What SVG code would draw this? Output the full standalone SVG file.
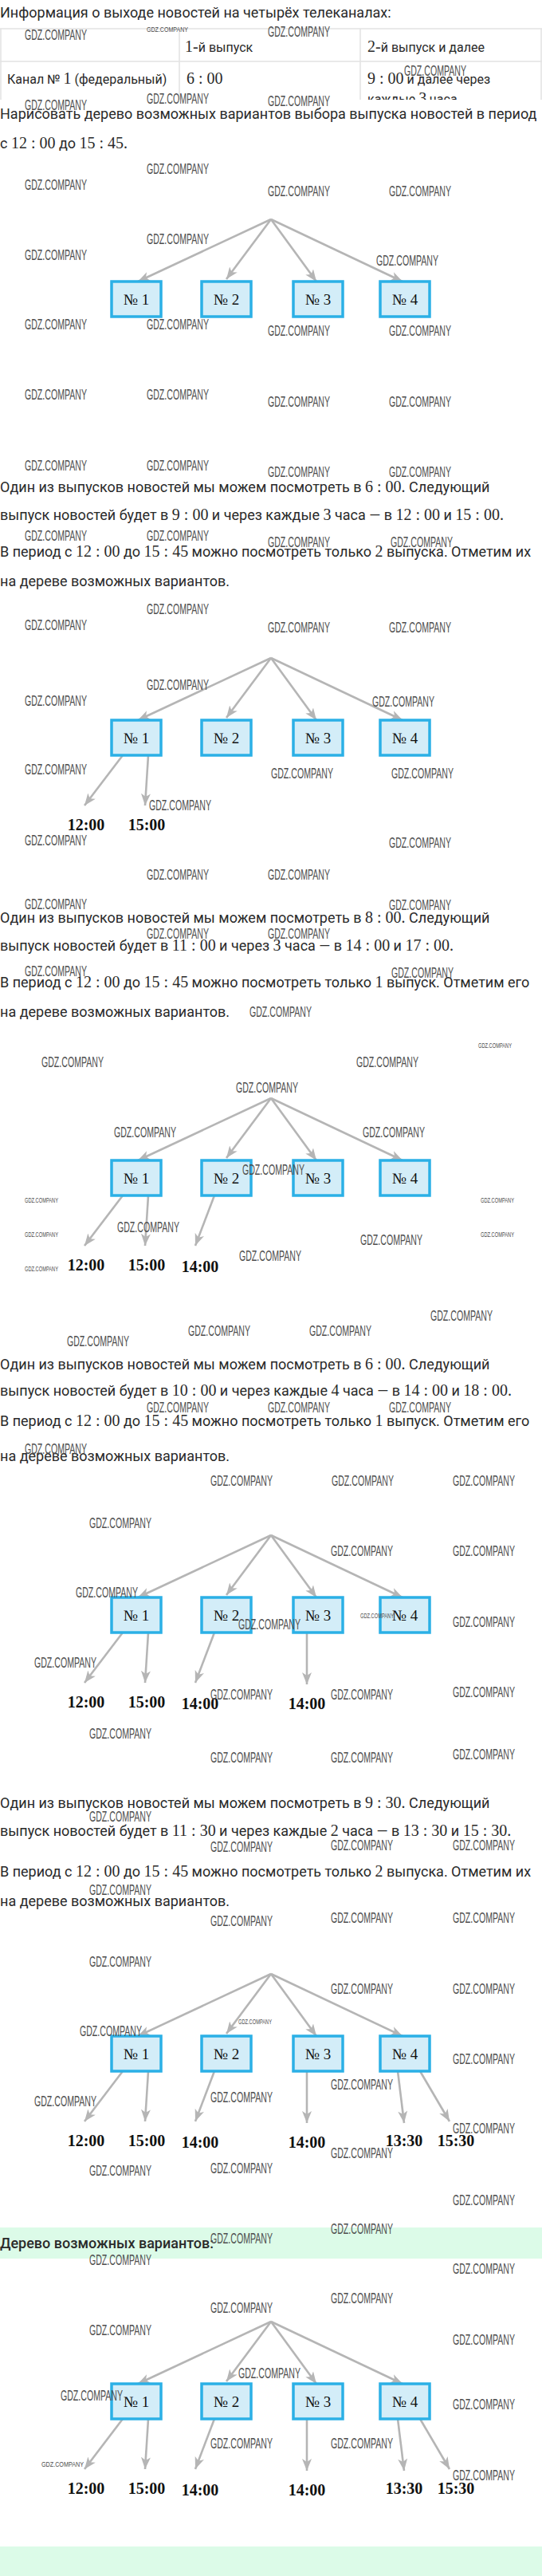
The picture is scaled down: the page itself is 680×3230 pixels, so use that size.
<svg xmlns="http://www.w3.org/2000/svg" width="680" height="3230" viewBox="0 0 680 3230">
<style>
.t{font-family:Roboto,"Liberation Sans",sans-serif;font-size:18px;fill:#2a2a2a}
.m{font-family:"Liberation Serif","DejaVu Serif",serif;font-size:20px}
.h{font-family:Roboto,"Liberation Sans",sans-serif;font-size:16px;fill:#2a2a2a}
.grid{stroke:#e2e2e2;stroke-width:1.5;fill:none}
.conn line{stroke:#b5b5b5;stroke-width:2.6;marker-end:url(#ah)}
.box{fill:#d3edf8;stroke:#2bb0e6;stroke-width:3.5}
.bl{font-family:"Liberation Serif","DejaVu Serif",serif;font-size:19px;fill:#111;text-anchor:middle}
.tl{font-family:"Liberation Serif","DejaVu Serif",serif;font-size:20px;font-weight:bold;fill:#111;text-anchor:middle}
.wm{font-family:"Liberation Sans",sans-serif;font-size:18px;fill:#4d4d4d}
.ws{font-family:"Liberation Sans",sans-serif;font-size:9px;fill:#4d4d4d}
.band{fill:#dcfbe8}
</style>
<defs>
<marker id="ah" markerUnits="userSpaceOnUse" markerWidth="16" markerHeight="12" refX="15" refY="6" orient="auto">
<path d="M0,0 L15,6 L0,12 L4,6 z" fill="#b5b5b5"/>
</marker>
<clipPath id="tc"><rect x="0" y="30" width="680" height="95"/></clipPath>
</defs>
<rect width="680" height="3230" fill="#ffffff"/>

<!-- intro -->
<g id="intro">
<text class="t" x="0" y="22">Информация о выходе новостей на четырёх телеканалах:</text>
</g>
<g id="table" clip-path="url(#tc)">
<line class="grid" x1="0" y1="36" x2="680" y2="36"/>
<line class="grid" x1="0" y1="77" x2="680" y2="77"/>
<line class="grid" x1="1" y1="36" x2="1" y2="130"/>
<line class="grid" x1="225" y1="36" x2="225" y2="130"/>
<line class="grid" x1="452" y1="36" x2="452" y2="130"/>
<line class="grid" x1="679" y1="36" x2="679" y2="130"/>
<text class="h" x="232" y="65"><tspan class="m" font-size="18">1-</tspan>й выпуск</text>
<text class="h" x="461" y="65"><tspan class="m" font-size="18">2-</tspan>й выпуск и далее</text>
<text class="h" x="9" y="105">Канал № <tspan class="m" font-size="18">1</tspan> (федеральный)</text>
<text class="h" x="234" y="105"><tspan class="m">6 : 00</tspan></text>
<text class="h" x="461" y="105"><tspan class="m">9 : 00</tspan> и далее через</text>
<text class="h" x="461" y="130">каждые <tspan class="m">3</tspan> часа</text>
</g>
<g id="task">
<text class="t" x="0" y="149">Нарисовать дерево возможных вариантов выбора выпуска новостей в период</text>
<text class="t" x="0" y="186">с <tspan class="m">12 : 00</tspan> до <tspan class="m">15 : 45.</tspan></text>
</g>

<!-- paragraphs -->
<g id="para1">
<text class="t" x="0" y="617">Один из выпусков новостей мы можем посмотреть в <tspan class="m">6 : 00.</tspan> Следующий</text>
<text class="t" x="0" y="652">выпуск новостей будет в <tspan class="m">9 : 00</tspan> и через каждые <tspan class="m">3</tspan> часа — в <tspan class="m">12 : 00</tspan> и <tspan class="m">15 : 00.</tspan></text>
<text class="t" x="0" y="698">В период с <tspan class="m">12 : 00</tspan> до <tspan class="m">15 : 45</tspan> можно посмотреть только <tspan class="m">2</tspan> выпуска. Отметим их</text>
<text class="t" x="0" y="735">на дереве возможных вариантов.</text>
</g>
<g id="para2">
<text class="t" x="0" y="1157">Один из выпусков новостей мы можем посмотреть в <tspan class="m">8 : 00.</tspan> Следующий</text>
<text class="t" x="0" y="1192">выпуск новостей будет в <tspan class="m">11 : 00</tspan> и через <tspan class="m">3</tspan> часа — в <tspan class="m">14 : 00</tspan> и <tspan class="m">17 : 00.</tspan></text>
<text class="t" x="0" y="1238">В период с <tspan class="m">12 : 00</tspan> до <tspan class="m">15 : 45</tspan> можно посмотреть только <tspan class="m">1</tspan> выпуск. Отметим его</text>
<text class="t" x="0" y="1275">на дереве возможных вариантов.</text>
</g>
<g id="para3">
<text class="t" x="0" y="1717">Один из выпусков новостей мы можем посмотреть в <tspan class="m">6 : 00.</tspan> Следующий</text>
<text class="t" x="0" y="1750">выпуск новостей будет в <tspan class="m">10 : 00</tspan> и через каждые <tspan class="m">4</tspan> часа — в <tspan class="m">14 : 00</tspan> и <tspan class="m">18 : 00.</tspan></text>
<text class="t" x="0" y="1788">В период с <tspan class="m">12 : 00</tspan> до <tspan class="m">15 : 45</tspan> можно посмотреть только <tspan class="m">1</tspan> выпуск. Отметим его</text>
<text class="t" x="0" y="1832">на дереве возможных вариантов.</text>
</g>
<g id="para4">
<text class="t" x="0" y="2267">Один из выпусков новостей мы можем посмотреть в <tspan class="m">9 : 30.</tspan> Следующий</text>
<text class="t" x="0" y="2302">выпуск новостей будет в <tspan class="m">11 : 30</tspan> и через каждые <tspan class="m">2</tspan> часа — в <tspan class="m">13 : 30</tspan> и <tspan class="m">15 : 30.</tspan></text>
<text class="t" x="0" y="2353">В период с <tspan class="m">12 : 00</tspan> до <tspan class="m">15 : 45</tspan> можно посмотреть только <tspan class="m">2</tspan> выпуска. Отметим их</text>
<text class="t" x="0" y="2390">на дереве возможных вариантов.</text>
</g>
<g id="answer">
<rect class="band" x="0" y="2793" width="680" height="39"/>
<text class="t" x="0" y="2819" font-weight="500" fill="#222">Дерево возможных вариантов:</text>
<rect class="band" x="0" y="3193" width="680" height="37"/>
</g>

<!-- TREE 1 -->
<g id="tree1" transform="translate(0,275)">
<g id="tree1-connectors" class="conn">
<line x1="340" y1="0" x2="173" y2="78"/>
<line x1="340" y1="0" x2="284" y2="75"/>
<line x1="340" y1="0" x2="397" y2="78"/>
<line x1="340" y1="0" x2="505" y2="78"/>
</g>
<g id="tree1-n1"><rect class="box" x="140" y="78" width="62" height="44"/><text class="bl" x="171" y="107">№ 1</text></g>
<g id="tree1-n2"><rect class="box" x="253" y="78" width="62" height="44"/><text class="bl" x="284" y="107">№ 2</text></g>
<g id="tree1-n3"><rect class="box" x="368" y="78" width="62" height="44"/><text class="bl" x="399" y="107">№ 3</text></g>
<g id="tree1-n4"><rect class="box" x="477" y="78" width="62" height="44"/><text class="bl" x="508" y="107">№ 4</text></g>
</g>

<!-- TREE 2 -->
<g id="tree2" transform="translate(0,825)">
<g id="tree2-connectors" class="conn">
<line x1="340" y1="0" x2="173" y2="78"/>
<line x1="340" y1="0" x2="284" y2="75"/>
<line x1="340" y1="0" x2="397" y2="78"/>
<line x1="340" y1="0" x2="505" y2="78"/>
<line x1="154" y1="122" x2="106" y2="185"/>
<line x1="186" y1="122" x2="182" y2="185"/>
</g>
<g id="tree2-n1"><rect class="box" x="140" y="78" width="62" height="44"/><text class="bl" x="171" y="107">№ 1</text></g>
<g id="tree2-n2"><rect class="box" x="253" y="78" width="62" height="44"/><text class="bl" x="284" y="107">№ 2</text></g>
<g id="tree2-n3"><rect class="box" x="368" y="78" width="62" height="44"/><text class="bl" x="399" y="107">№ 3</text></g>
<g id="tree2-n4"><rect class="box" x="477" y="78" width="62" height="44"/><text class="bl" x="508" y="107">№ 4</text></g>
<g id="tree2-t1"><text class="tl" x="108" y="216">12:00</text></g>
<g id="tree2-t2"><text class="tl" x="184" y="216">15:00</text></g>
</g>

<!-- TREE 3 -->
<g id="tree3" transform="translate(0,1377)">
<g id="tree3-connectors" class="conn">
<line x1="340" y1="0" x2="173" y2="78"/>
<line x1="340" y1="0" x2="284" y2="75"/>
<line x1="340" y1="0" x2="397" y2="78"/>
<line x1="340" y1="0" x2="505" y2="78"/>
<line x1="154" y1="122" x2="106" y2="185"/>
<line x1="186" y1="122" x2="182" y2="185"/>
<line x1="269" y1="122" x2="245" y2="185"/>
</g>
<g id="tree3-n1"><rect class="box" x="140" y="78" width="62" height="44"/><text class="bl" x="171" y="107">№ 1</text></g>
<g id="tree3-n2"><rect class="box" x="253" y="78" width="62" height="44"/><text class="bl" x="284" y="107">№ 2</text></g>
<g id="tree3-n3"><rect class="box" x="368" y="78" width="62" height="44"/><text class="bl" x="399" y="107">№ 3</text></g>
<g id="tree3-n4"><rect class="box" x="477" y="78" width="62" height="44"/><text class="bl" x="508" y="107">№ 4</text></g>
<g id="tree3-t1"><text class="tl" x="108" y="216">12:00</text></g>
<g id="tree3-t2"><text class="tl" x="184" y="216">15:00</text></g>
<g id="tree3-t3"><text class="tl" x="251" y="218">14:00</text></g>
</g>

<!-- TREE 4 -->
<g id="tree4" transform="translate(0,1925)">
<g id="tree4-connectors" class="conn">
<line x1="340" y1="0" x2="173" y2="78"/>
<line x1="340" y1="0" x2="284" y2="75"/>
<line x1="340" y1="0" x2="397" y2="78"/>
<line x1="340" y1="0" x2="505" y2="78"/>
<line x1="154" y1="122" x2="106" y2="185"/>
<line x1="186" y1="122" x2="182" y2="185"/>
<line x1="269" y1="122" x2="245" y2="185"/>
<line x1="385" y1="122" x2="385" y2="187"/>
</g>
<g id="tree4-n1"><rect class="box" x="140" y="78" width="62" height="44"/><text class="bl" x="171" y="107">№ 1</text></g>
<g id="tree4-n2"><rect class="box" x="253" y="78" width="62" height="44"/><text class="bl" x="284" y="107">№ 2</text></g>
<g id="tree4-n3"><rect class="box" x="368" y="78" width="62" height="44"/><text class="bl" x="399" y="107">№ 3</text></g>
<g id="tree4-n4"><rect class="box" x="477" y="78" width="62" height="44"/><text class="bl" x="508" y="107">№ 4</text></g>
<g id="tree4-t1"><text class="tl" x="108" y="216">12:00</text></g>
<g id="tree4-t2"><text class="tl" x="184" y="216">15:00</text></g>
<g id="tree4-t3"><text class="tl" x="251" y="218">14:00</text></g>
<g id="tree4-t4"><text class="tl" x="385" y="218">14:00</text></g>
</g>

<!-- TREE 5 -->
<g id="tree5" transform="translate(0,2475)">
<g id="tree5-connectors" class="conn">
<line x1="340" y1="0" x2="173" y2="78"/>
<line x1="340" y1="0" x2="284" y2="75"/>
<line x1="340" y1="0" x2="397" y2="78"/>
<line x1="340" y1="0" x2="505" y2="78"/>
<line x1="154" y1="122" x2="106" y2="185"/>
<line x1="186" y1="122" x2="182" y2="185"/>
<line x1="269" y1="122" x2="245" y2="185"/>
<line x1="385" y1="122" x2="385" y2="187"/>
<line x1="499" y1="122" x2="507" y2="187"/>
<line x1="527" y1="122" x2="564" y2="185"/>
</g>
<g id="tree5-n1"><rect class="box" x="140" y="78" width="62" height="44"/><text class="bl" x="171" y="107">№ 1</text></g>
<g id="tree5-n2"><rect class="box" x="253" y="78" width="62" height="44"/><text class="bl" x="284" y="107">№ 2</text></g>
<g id="tree5-n3"><rect class="box" x="368" y="78" width="62" height="44"/><text class="bl" x="399" y="107">№ 3</text></g>
<g id="tree5-n4"><rect class="box" x="477" y="78" width="62" height="44"/><text class="bl" x="508" y="107">№ 4</text></g>
<g id="tree5-t1"><text class="tl" x="108" y="216">12:00</text></g>
<g id="tree5-t2"><text class="tl" x="184" y="216">15:00</text></g>
<g id="tree5-t3"><text class="tl" x="251" y="218">14:00</text></g>
<g id="tree5-t4"><text class="tl" x="385" y="218">14:00</text></g>
<g id="tree5-t5"><text class="tl" x="507" y="216">13:30</text></g>
<g id="tree5-t6"><text class="tl" x="572" y="216">15:30</text></g>
</g>

<!-- TREE 6 -->
<g id="tree6" transform="translate(0,2911)">
<g id="tree6-connectors" class="conn">
<line x1="340" y1="0" x2="173" y2="78"/>
<line x1="340" y1="0" x2="284" y2="75"/>
<line x1="340" y1="0" x2="397" y2="78"/>
<line x1="340" y1="0" x2="505" y2="78"/>
<line x1="154" y1="122" x2="106" y2="185"/>
<line x1="186" y1="122" x2="182" y2="185"/>
<line x1="269" y1="122" x2="245" y2="185"/>
<line x1="385" y1="122" x2="385" y2="187"/>
<line x1="499" y1="122" x2="507" y2="187"/>
<line x1="527" y1="122" x2="564" y2="185"/>
</g>
<g id="tree6-n1"><rect class="box" x="140" y="78" width="62" height="44"/><text class="bl" x="171" y="107">№ 1</text></g>
<g id="tree6-n2"><rect class="box" x="253" y="78" width="62" height="44"/><text class="bl" x="284" y="107">№ 2</text></g>
<g id="tree6-n3"><rect class="box" x="368" y="78" width="62" height="44"/><text class="bl" x="399" y="107">№ 3</text></g>
<g id="tree6-n4"><rect class="box" x="477" y="78" width="62" height="44"/><text class="bl" x="508" y="107">№ 4</text></g>
<g id="tree6-t1"><text class="tl" x="108" y="216">12:00</text></g>
<g id="tree6-t2"><text class="tl" x="184" y="216">15:00</text></g>
<g id="tree6-t3"><text class="tl" x="251" y="218">14:00</text></g>
<g id="tree6-t4"><text class="tl" x="385" y="218">14:00</text></g>
<g id="tree6-t5"><text class="tl" x="507" y="216">13:30</text></g>
<g id="tree6-t6"><text class="tl" x="572" y="216">15:30</text></g>
</g>

<!-- watermarks -->
<g id="watermarks">
<text class="wm" x="31" y="50" textLength="78" lengthAdjust="spacingAndGlyphs">GDZ.COMPANY</text>
<text class="ws" x="184" y="40" font-size="10" textLength="52" lengthAdjust="spacingAndGlyphs">GDZ.COMPANY</text>
<text class="wm" x="336" y="46" textLength="78" lengthAdjust="spacingAndGlyphs">GDZ.COMPANY</text>
<text class="wm" x="507" y="95" textLength="78" lengthAdjust="spacingAndGlyphs">GDZ.COMPANY</text>
<text class="wm" x="31" y="138" textLength="78" lengthAdjust="spacingAndGlyphs">GDZ.COMPANY</text>
<text class="wm" x="184" y="130" textLength="78" lengthAdjust="spacingAndGlyphs">GDZ.COMPANY</text>
<text class="wm" x="336" y="133" textLength="78" lengthAdjust="spacingAndGlyphs">GDZ.COMPANY</text>
<text class="wm" x="184" y="218" textLength="78" lengthAdjust="spacingAndGlyphs">GDZ.COMPANY</text>
<text class="wm" x="31" y="238" textLength="78" lengthAdjust="spacingAndGlyphs">GDZ.COMPANY</text>
<text class="wm" x="336" y="246" textLength="78" lengthAdjust="spacingAndGlyphs">GDZ.COMPANY</text>
<text class="wm" x="488" y="246" textLength="78" lengthAdjust="spacingAndGlyphs">GDZ.COMPANY</text>
<text class="wm" x="184" y="306" textLength="78" lengthAdjust="spacingAndGlyphs">GDZ.COMPANY</text>
<text class="wm" x="31" y="326" textLength="78" lengthAdjust="spacingAndGlyphs">GDZ.COMPANY</text>
<text class="wm" x="472" y="333" textLength="78" lengthAdjust="spacingAndGlyphs">GDZ.COMPANY</text>
<text class="wm" x="31" y="413" textLength="78" lengthAdjust="spacingAndGlyphs">GDZ.COMPANY</text>
<text class="wm" x="184" y="413" textLength="78" lengthAdjust="spacingAndGlyphs">GDZ.COMPANY</text>
<text class="wm" x="336" y="421" textLength="78" lengthAdjust="spacingAndGlyphs">GDZ.COMPANY</text>
<text class="wm" x="488" y="421" textLength="78" lengthAdjust="spacingAndGlyphs">GDZ.COMPANY</text>
<text class="wm" x="31" y="501" textLength="78" lengthAdjust="spacingAndGlyphs">GDZ.COMPANY</text>
<text class="wm" x="184" y="501" textLength="78" lengthAdjust="spacingAndGlyphs">GDZ.COMPANY</text>
<text class="wm" x="336" y="510" textLength="78" lengthAdjust="spacingAndGlyphs">GDZ.COMPANY</text>
<text class="wm" x="488" y="510" textLength="78" lengthAdjust="spacingAndGlyphs">GDZ.COMPANY</text>
<text class="wm" x="31" y="590" textLength="78" lengthAdjust="spacingAndGlyphs">GDZ.COMPANY</text>
<text class="wm" x="184" y="590" textLength="78" lengthAdjust="spacingAndGlyphs">GDZ.COMPANY</text>
<text class="wm" x="336" y="598" textLength="78" lengthAdjust="spacingAndGlyphs">GDZ.COMPANY</text>
<text class="wm" x="488" y="598" textLength="78" lengthAdjust="spacingAndGlyphs">GDZ.COMPANY</text>
<text class="wm" x="31" y="678" textLength="78" lengthAdjust="spacingAndGlyphs">GDZ.COMPANY</text>
<text class="wm" x="184" y="678" textLength="78" lengthAdjust="spacingAndGlyphs">GDZ.COMPANY</text>
<text class="wm" x="336" y="686" textLength="78" lengthAdjust="spacingAndGlyphs">GDZ.COMPANY</text>
<text class="wm" x="490" y="686" textLength="78" lengthAdjust="spacingAndGlyphs">GDZ.COMPANY</text>
<text class="wm" x="184" y="770" textLength="78" lengthAdjust="spacingAndGlyphs">GDZ.COMPANY</text>
<text class="wm" x="31" y="790" textLength="78" lengthAdjust="spacingAndGlyphs">GDZ.COMPANY</text>
<text class="wm" x="336" y="793" textLength="78" lengthAdjust="spacingAndGlyphs">GDZ.COMPANY</text>
<text class="wm" x="488" y="793" textLength="78" lengthAdjust="spacingAndGlyphs">GDZ.COMPANY</text>
<text class="wm" x="184" y="865" textLength="78" lengthAdjust="spacingAndGlyphs">GDZ.COMPANY</text>
<text class="wm" x="31" y="885" textLength="78" lengthAdjust="spacingAndGlyphs">GDZ.COMPANY</text>
<text class="wm" x="467" y="886" textLength="78" lengthAdjust="spacingAndGlyphs">GDZ.COMPANY</text>
<text class="wm" x="31" y="971" textLength="78" lengthAdjust="spacingAndGlyphs">GDZ.COMPANY</text>
<text class="wm" x="340" y="976" textLength="78" lengthAdjust="spacingAndGlyphs">GDZ.COMPANY</text>
<text class="wm" x="491" y="976" textLength="78" lengthAdjust="spacingAndGlyphs">GDZ.COMPANY</text>
<text class="wm" x="187" y="1016" textLength="78" lengthAdjust="spacingAndGlyphs">GDZ.COMPANY</text>
<text class="wm" x="31" y="1060" textLength="78" lengthAdjust="spacingAndGlyphs">GDZ.COMPANY</text>
<text class="wm" x="488" y="1063" textLength="78" lengthAdjust="spacingAndGlyphs">GDZ.COMPANY</text>
<text class="wm" x="184" y="1103" textLength="78" lengthAdjust="spacingAndGlyphs">GDZ.COMPANY</text>
<text class="wm" x="336" y="1103" textLength="78" lengthAdjust="spacingAndGlyphs">GDZ.COMPANY</text>
<text class="wm" x="31" y="1140" textLength="78" lengthAdjust="spacingAndGlyphs">GDZ.COMPANY</text>
<text class="wm" x="488" y="1141" textLength="78" lengthAdjust="spacingAndGlyphs">GDZ.COMPANY</text>
<text class="wm" x="184" y="1177" textLength="78" lengthAdjust="spacingAndGlyphs">GDZ.COMPANY</text>
<text class="wm" x="336" y="1177" textLength="78" lengthAdjust="spacingAndGlyphs">GDZ.COMPANY</text>
<text class="wm" x="31" y="1224" textLength="78" lengthAdjust="spacingAndGlyphs">GDZ.COMPANY</text>
<text class="wm" x="491" y="1226" textLength="78" lengthAdjust="spacingAndGlyphs">GDZ.COMPANY</text>
<text class="wm" x="313" y="1275" textLength="78" lengthAdjust="spacingAndGlyphs">GDZ.COMPANY</text>
<text class="ws" x="600" y="1314" textLength="42" lengthAdjust="spacingAndGlyphs">GDZ.COMPANY</text>
<text class="wm" x="52" y="1338" textLength="78" lengthAdjust="spacingAndGlyphs">GDZ.COMPANY</text>
<text class="wm" x="447" y="1338" textLength="78" lengthAdjust="spacingAndGlyphs">GDZ.COMPANY</text>
<text class="wm" x="296" y="1370" textLength="78" lengthAdjust="spacingAndGlyphs">GDZ.COMPANY</text>
<text class="wm" x="143" y="1426" textLength="78" lengthAdjust="spacingAndGlyphs">GDZ.COMPANY</text>
<text class="wm" x="455" y="1426" textLength="78" lengthAdjust="spacingAndGlyphs">GDZ.COMPANY</text>
<text class="wm" x="304" y="1473" textLength="78" lengthAdjust="spacingAndGlyphs">GDZ.COMPANY</text>
<text class="ws" x="31" y="1508" textLength="42" lengthAdjust="spacingAndGlyphs">GDZ.COMPANY</text>
<text class="ws" x="603" y="1508" textLength="42" lengthAdjust="spacingAndGlyphs">GDZ.COMPANY</text>
<text class="ws" x="31" y="1551" textLength="42" lengthAdjust="spacingAndGlyphs">GDZ.COMPANY</text>
<text class="ws" x="603" y="1551" textLength="42" lengthAdjust="spacingAndGlyphs">GDZ.COMPANY</text>
<text class="ws" x="31" y="1594" textLength="42" lengthAdjust="spacingAndGlyphs">GDZ.COMPANY</text>
<text class="wm" x="147" y="1545" textLength="78" lengthAdjust="spacingAndGlyphs">GDZ.COMPANY</text>
<text class="wm" x="452" y="1561" textLength="78" lengthAdjust="spacingAndGlyphs">GDZ.COMPANY</text>
<text class="wm" x="300" y="1581" textLength="78" lengthAdjust="spacingAndGlyphs">GDZ.COMPANY</text>
<text class="wm" x="540" y="1656" textLength="78" lengthAdjust="spacingAndGlyphs">GDZ.COMPANY</text>
<text class="wm" x="236" y="1675" textLength="78" lengthAdjust="spacingAndGlyphs">GDZ.COMPANY</text>
<text class="wm" x="388" y="1675" textLength="78" lengthAdjust="spacingAndGlyphs">GDZ.COMPANY</text>
<text class="wm" x="84" y="1688" textLength="78" lengthAdjust="spacingAndGlyphs">GDZ.COMPANY</text>
<text class="wm" x="184" y="1771" textLength="78" lengthAdjust="spacingAndGlyphs">GDZ.COMPANY</text>
<text class="wm" x="336" y="1771" textLength="78" lengthAdjust="spacingAndGlyphs">GDZ.COMPANY</text>
<text class="wm" x="488" y="1771" textLength="78" lengthAdjust="spacingAndGlyphs">GDZ.COMPANY</text>
<text class="wm" x="31" y="1823" textLength="78" lengthAdjust="spacingAndGlyphs">GDZ.COMPANY</text>
<text class="wm" x="264" y="1863" textLength="78" lengthAdjust="spacingAndGlyphs">GDZ.COMPANY</text>
<text class="wm" x="416" y="1863" textLength="78" lengthAdjust="spacingAndGlyphs">GDZ.COMPANY</text>
<text class="wm" x="568" y="1863" textLength="78" lengthAdjust="spacingAndGlyphs">GDZ.COMPANY</text>
<text class="wm" x="112" y="1916" textLength="78" lengthAdjust="spacingAndGlyphs">GDZ.COMPANY</text>
<text class="wm" x="415" y="1951" textLength="78" lengthAdjust="spacingAndGlyphs">GDZ.COMPANY</text>
<text class="wm" x="568" y="1951" textLength="78" lengthAdjust="spacingAndGlyphs">GDZ.COMPANY</text>
<text class="wm" x="95" y="2003" textLength="78" lengthAdjust="spacingAndGlyphs">GDZ.COMPANY</text>
<text class="wm" x="299" y="2043" textLength="78" lengthAdjust="spacingAndGlyphs">GDZ.COMPANY</text>
<text class="ws" x="452" y="2029" textLength="42" lengthAdjust="spacingAndGlyphs">GDZ.COMPANY</text>
<text class="wm" x="568" y="2040" textLength="78" lengthAdjust="spacingAndGlyphs">GDZ.COMPANY</text>
<text class="wm" x="43" y="2091" textLength="78" lengthAdjust="spacingAndGlyphs">GDZ.COMPANY</text>
<text class="wm" x="264" y="2131" textLength="78" lengthAdjust="spacingAndGlyphs">GDZ.COMPANY</text>
<text class="wm" x="415" y="2131" textLength="78" lengthAdjust="spacingAndGlyphs">GDZ.COMPANY</text>
<text class="wm" x="568" y="2128" textLength="78" lengthAdjust="spacingAndGlyphs">GDZ.COMPANY</text>
<text class="wm" x="112" y="2180" textLength="78" lengthAdjust="spacingAndGlyphs">GDZ.COMPANY</text>
<text class="wm" x="264" y="2210" textLength="78" lengthAdjust="spacingAndGlyphs">GDZ.COMPANY</text>
<text class="wm" x="415" y="2210" textLength="78" lengthAdjust="spacingAndGlyphs">GDZ.COMPANY</text>
<text class="wm" x="568" y="2206" textLength="78" lengthAdjust="spacingAndGlyphs">GDZ.COMPANY</text>
<text class="wm" x="112" y="2284" textLength="78" lengthAdjust="spacingAndGlyphs">GDZ.COMPANY</text>
<text class="wm" x="264" y="2322" textLength="78" lengthAdjust="spacingAndGlyphs">GDZ.COMPANY</text>
<text class="wm" x="415" y="2320" textLength="78" lengthAdjust="spacingAndGlyphs">GDZ.COMPANY</text>
<text class="wm" x="568" y="2320" textLength="78" lengthAdjust="spacingAndGlyphs">GDZ.COMPANY</text>
<text class="wm" x="112" y="2376" textLength="78" lengthAdjust="spacingAndGlyphs">GDZ.COMPANY</text>
<text class="wm" x="264" y="2415" textLength="78" lengthAdjust="spacingAndGlyphs">GDZ.COMPANY</text>
<text class="wm" x="415" y="2411" textLength="78" lengthAdjust="spacingAndGlyphs">GDZ.COMPANY</text>
<text class="wm" x="568" y="2411" textLength="78" lengthAdjust="spacingAndGlyphs">GDZ.COMPANY</text>
<text class="wm" x="112" y="2466" textLength="78" lengthAdjust="spacingAndGlyphs">GDZ.COMPANY</text>
<text class="wm" x="415" y="2500" textLength="78" lengthAdjust="spacingAndGlyphs">GDZ.COMPANY</text>
<text class="wm" x="568" y="2500" textLength="78" lengthAdjust="spacingAndGlyphs">GDZ.COMPANY</text>
<text class="wm" x="100" y="2553" textLength="78" lengthAdjust="spacingAndGlyphs">GDZ.COMPANY</text>
<text class="ws" x="299" y="2538" textLength="42" lengthAdjust="spacingAndGlyphs">GDZ.COMPANY</text>
<text class="wm" x="568" y="2588" textLength="78" lengthAdjust="spacingAndGlyphs">GDZ.COMPANY</text>
<text class="wm" x="415" y="2620" textLength="78" lengthAdjust="spacingAndGlyphs">GDZ.COMPANY</text>
<text class="wm" x="43" y="2641" textLength="78" lengthAdjust="spacingAndGlyphs">GDZ.COMPANY</text>
<text class="wm" x="264" y="2636" textLength="78" lengthAdjust="spacingAndGlyphs">GDZ.COMPANY</text>
<text class="wm" x="568" y="2675" textLength="78" lengthAdjust="spacingAndGlyphs">GDZ.COMPANY</text>
<text class="wm" x="415" y="2706" textLength="78" lengthAdjust="spacingAndGlyphs">GDZ.COMPANY</text>
<text class="wm" x="112" y="2728" textLength="78" lengthAdjust="spacingAndGlyphs">GDZ.COMPANY</text>
<text class="wm" x="264" y="2725" textLength="78" lengthAdjust="spacingAndGlyphs">GDZ.COMPANY</text>
<text class="wm" x="568" y="2765" textLength="78" lengthAdjust="spacingAndGlyphs">GDZ.COMPANY</text>
<text class="wm" x="415" y="2801" textLength="78" lengthAdjust="spacingAndGlyphs">GDZ.COMPANY</text>
<text class="wm" x="264" y="2813" textLength="78" lengthAdjust="spacingAndGlyphs">GDZ.COMPANY</text>
<text class="wm" x="112" y="2840" textLength="78" lengthAdjust="spacingAndGlyphs">GDZ.COMPANY</text>
<text class="wm" x="568" y="2851" textLength="78" lengthAdjust="spacingAndGlyphs">GDZ.COMPANY</text>
<text class="wm" x="415" y="2888" textLength="78" lengthAdjust="spacingAndGlyphs">GDZ.COMPANY</text>
<text class="wm" x="264" y="2900" textLength="78" lengthAdjust="spacingAndGlyphs">GDZ.COMPANY</text>
<text class="wm" x="112" y="2928" textLength="78" lengthAdjust="spacingAndGlyphs">GDZ.COMPANY</text>
<text class="wm" x="568" y="2940" textLength="78" lengthAdjust="spacingAndGlyphs">GDZ.COMPANY</text>
<text class="wm" x="299" y="2982" textLength="78" lengthAdjust="spacingAndGlyphs">GDZ.COMPANY</text>
<text class="wm" x="76" y="3010" textLength="78" lengthAdjust="spacingAndGlyphs">GDZ.COMPANY</text>
<text class="wm" x="568" y="3021" textLength="78" lengthAdjust="spacingAndGlyphs">GDZ.COMPANY</text>
<text class="wm" x="264" y="3070" textLength="78" lengthAdjust="spacingAndGlyphs">GDZ.COMPANY</text>
<text class="wm" x="415" y="3070" textLength="78" lengthAdjust="spacingAndGlyphs">GDZ.COMPANY</text>
<text class="ws" x="52" y="3093" font-size="10" textLength="53" lengthAdjust="spacingAndGlyphs">GDZ.COMPANY</text>
<text class="wm" x="568" y="3110" textLength="78" lengthAdjust="spacingAndGlyphs">GDZ.COMPANY</text>
</g>
</svg>
